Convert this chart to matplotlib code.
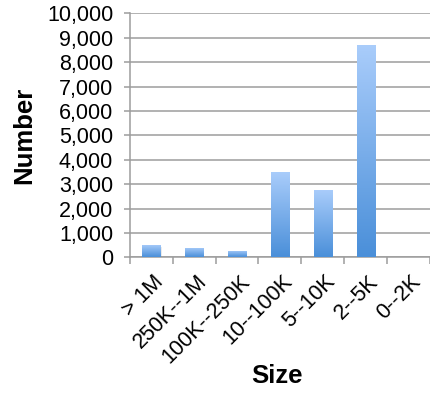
import numpy as np
import matplotlib
matplotlib.use("Agg")
import matplotlib.pyplot as plt
from matplotlib.colors import LinearSegmentedColormap
from matplotlib.ticker import FuncFormatter, MultipleLocator
from matplotlib.transforms import ScaledTranslation

# Data
categories = ["> 1M", "250K--1M", "100K--250K", "10--100K", "5--10K", "2--5K", "0--2K"]
counts = [500, 380, 260, 3500, 2760, 8700, 0]
y_max = 10000
y_step = 1000

plt.rcParams["font.family"] = ["Liberation Sans", "DejaVu Sans"]

fig = plt.figure(figsize=(4.30, 3.93), dpi=100)
ax = fig.add_axes([0.302, 0.345, 0.698, 0.621])

x = np.arange(len(categories))
bars = ax.bar(x, counts, width=0.42, facecolor="none", edgecolor="none", zorder=3)

# vertical gradient fill for each bar, plus a soft shadow
cmap = LinearSegmentedColormap.from_list("barfill", ["#4a8fd9", "#aacdfb"])
grad = np.linspace(0, 1, 256).reshape(-1, 1)
for rect in bars:
    h = rect.get_height()
    if h <= 0:
        continue
    x0 = rect.get_x()
    w = rect.get_width()
    shadow = plt.Rectangle((x0 + 0.03, 0), w, h - 60, facecolor="#000000",
                           alpha=0.08, edgecolor="none", zorder=2)
    ax.add_patch(shadow)
    im = ax.imshow(grad, cmap=cmap, origin="lower", aspect="auto",
                   extent=(x0, x0 + w, 0, h), zorder=3)
    im.set_clip_path(rect)

ax.set_xlim(-0.5, len(categories) - 0.58)
ax.set_ylim(0, y_max)

# grid and spines
grid_color = "#9c9c9c"
ax.yaxis.set_major_locator(MultipleLocator(y_step))
ax.grid(axis="y", color=grid_color, linewidth=1.1, zorder=0)
ax.set_axisbelow(True)
for side in ("top", "right"):
    ax.spines[side].set_visible(False)
for side in ("left", "bottom"):
    ax.spines[side].set_color(grid_color)
    ax.spines[side].set_linewidth(1.1)

ax.yaxis.set_major_formatter(FuncFormatter(lambda v, p: f"{int(v):,}"))
ax.tick_params(axis="y", length=4, width=1.1, color=grid_color, labelsize=15.5, pad=8)

# category labels at centres, tick marks at boundaries
ax.set_xticks(x)
ax.set_xticklabels(categories, rotation=45, ha="right", va="top",
                   rotation_mode="anchor", fontsize=15.5)
ax.set_xticks(np.arange(-0.5, len(categories) + 0.5, 1), minor=True)
ax.tick_params(axis="x", which="major", length=0, pad=10)
ax.tick_params(axis="x", which="minor", length=5, width=1.1, color=grid_color)
for lbl in ax.get_xticklabels():
    lbl.set_transform(lbl.get_transform() + ScaledTranslation(2 / 100, 0, fig.dpi_scale_trans))

fig.text(0.056, 0.655, "Number", rotation=90, ha="center", va="center",
         fontsize=18.5, fontweight="bold")
fig.text(0.645, 0.043, "Size", ha="center", va="center",
         fontsize=18.5, fontweight="bold")

fig.savefig("out.png", dpi=100)
